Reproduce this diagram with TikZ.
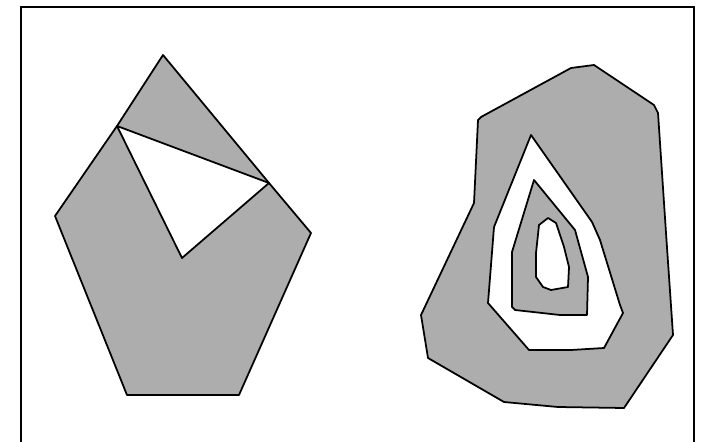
\documentclass[tikz,border=0pt]{standalone}
\usepackage{tikz}

\definecolor{shade}{RGB}{173,173,173}

\begin{document}
\begin{tikzpicture}[
        x=0.02cm, y=-0.02cm,
        region/.style={draw, line width=1pt, fill=shade, line join=round},
        hole/.style={draw, line width=1pt, fill=white, line join=round}
    ]
        \useasboundingbox (0,0) rectangle (702,442);
        % Frame
        \draw[line width=1.2pt] (21,442) -- (21,7) -- (694,7) -- (694,442);

        % Left polygon
        \draw[region] (163,55) -- (269,183) -- (311,233) -- (239,395) -- (127,395)
            -- (55,216) -- (117,126) -- cycle;
        \draw[hole] (117,126) -- (269,183) -- (182,258) -- cycle;

        % Right region, outer
        \draw[region] (481,117) -- (571,68) -- (594,65) -- (654,105)
            -- (658,113) -- (666,233) -- (673,335) -- (624,408) -- (558,407)
            -- (504,402) -- (428,358) -- (421,315) -- (474,203) -- (478,120) -- cycle;
        % Right region, white ring
        \draw[hole] (531,135) -- (592,222) -- (600,240) -- (620,305) -- (623,313)
            -- (604,348) -- (571,350) -- (529,350) -- (488,303) -- (494,227) -- cycle;
        % Right region, inner
        \draw[region] (534,180) -- (575,230) -- (588,277) -- (587,315) -- (560,315)
            -- (515,310) -- (512,307) -- (512,252) -- cycle;
        % Right region, core
        \draw[hole] (539,225) -- (548,218) -- (556,223) -- (564,247) -- (569,267)
            -- (568,287) -- (551,290) -- (543,287) -- (536,277) -- (536,253) -- cycle;
\end{tikzpicture}
\end{document}
